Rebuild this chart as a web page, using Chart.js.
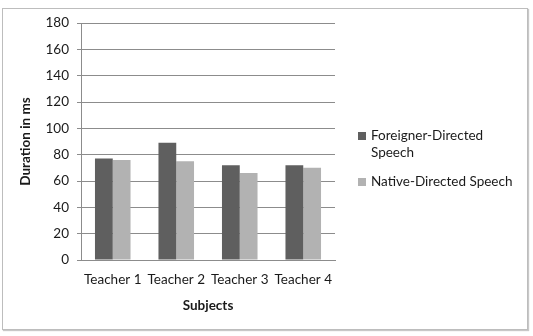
<!DOCTYPE html>
<html><head><meta charset="utf-8">
<script src="https://cdn.jsdelivr.net/npm/chart.js@4/dist/chart.umd.min.js"></script>
<style>
html,body{margin:0;padding:0;background:#fff;}
#wrap{position:relative;width:533px;height:336px;}
#frame{position:absolute;left:2px;top:8px;width:524px;height:320px;border:1px solid #bdbdbd;box-shadow:1px 1px 1px #c8c8c8;}
canvas{position:absolute;left:0;top:0;}
</style></head><body>
<div id="wrap"><div id="frame"></div><canvas id="c" width="533" height="336"></canvas></div>
<script>
const categories = ["Teacher 1","Teacher 2","Teacher 3","Teacher 4"];
const foreignerDirected = [77, 89, 72, 72];
const nativeDirected = [76, 75, 66, 70];
const seriesNames = [["Foreigner-Directed","Speech"], ["Native-Directed Speech"]];
const yTicks = [0,20,40,60,80,100,120,140,160,180];
const colors = ["#5f5f5f", "#b2b2b2"];
const FONT = "Lato, 'Open Sans', sans-serif";

const legendPlugin = {
  id: 'sideLegend',
  afterDraw(chart) {
    const ctx = chart.ctx;
    ctx.save();
    ctx.font = "13.5px " + FONT;
    ctx.textBaseline = "middle";
    const items = [{y:136, lines:seriesNames[0]}, {y:182, lines:seriesNames[1]}];
    items.forEach((it, i) => {
      ctx.fillStyle = colors[i];
      ctx.fillRect(358, it.y - 4, 8, 8);
      ctx.fillStyle = "#1a1a1a";
      it.lines.forEach((ln, j) => ctx.fillText(ln, 371, it.y + j * 17));
    });
    ctx.restore();
  }
};

new Chart(document.getElementById('c'), {
  type: 'bar',
  data: {
    labels: categories,
    datasets: [
      {label: seriesNames[0].join(' '), data: foreignerDirected, backgroundColor: colors[0], categoryPercentage: 0.56, barPercentage: 1.0},
      {label: seriesNames[1].join(' '), data: nativeDirected, backgroundColor: colors[1], categoryPercentage: 0.56, barPercentage: 1.0}
    ]
  },
  options: {
    responsive: false,
    animation: false,
    layout: {padding: {left: 18, right: 198, top: 23, bottom: 22}},
    plugins: {legend: {display: false}, tooltip: {enabled: false}},
    scales: {
      x: {
        grid: {display: false, drawTicks: false},
        border: {display: true, color: '#8c8c8c', width: 1},
        ticks: {color: '#1a1a1a', font: {family: FONT, size: 13.5}, padding: 12, maxRotation: 0, autoSkip: false},
        title: {display: true, text: 'Subjects', color: '#1a1a1a', font: {family: FONT, size: 13.5, weight: 'bold'}, padding: {top: 3, bottom: 0}},
        afterFit(s) { s.height = 54; }
      },
      y: {
        min: 0, max: 180,
        afterBuildTicks(s) { s.ticks = yTicks.map(v => ({value: v})); },
        grid: {color: '#8c8c8c', lineWidth: 1, tickLength: 4},
        border: {display: true, color: '#8c8c8c'},
        ticks: {color: '#1a1a1a', font: {family: FONT, size: 13.5}, padding: 8},
        title: {display: true, text: 'Duration in ms', color: '#1a1a1a', font: {family: FONT, size: 13.5, weight: 'bold'}, padding: {top: 0, bottom: 4}},
        afterFit(s) { s.width = 63; }
      }
    }
  },
  plugins: [legendPlugin]
});
</script>
</body></html>
